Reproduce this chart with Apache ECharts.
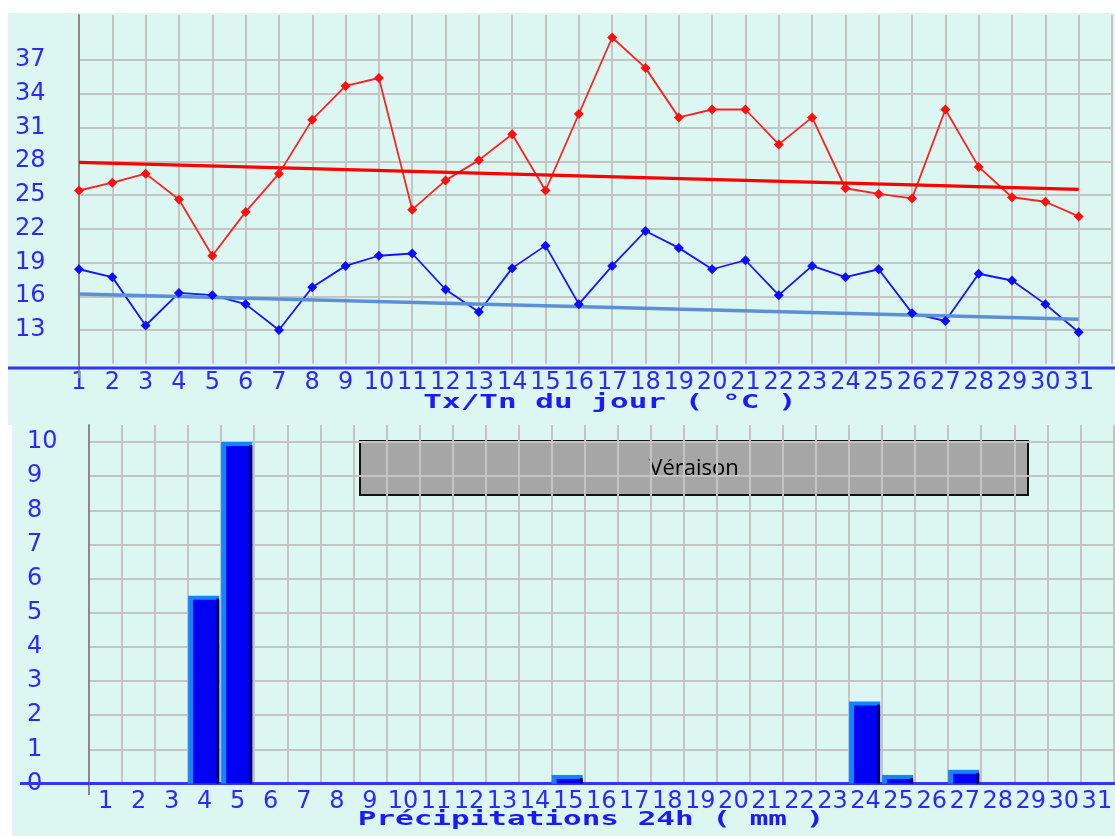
<!DOCTYPE html>
<html>
<head>
<meta charset="utf-8">
<script src="https://cdn.jsdelivr.net/npm/echarts@6/dist/echarts.min.js"></script>
<style>
  html, body { margin: 0; padding: 0; background: #fff; }
  #chart { width: 1115px; height: 836px; }
</style>
</head>
<body>
<div id="chart"></div>
<script>
// days of the month
const days = [1, 2, 3, 4, 5, 6, 7, 8, 9, 10, 11, 12, 13, 14, 15, 16, 17, 18, 19, 20, 21, 22, 23, 24, 25, 26, 27, 28, 29, 30, 31];
// Tx / Tn (°C)
const tmax = [25.4, 26.1, 26.9, 24.6, 19.6, 23.5, 26.9, 31.7, 34.7, 35.4, 23.7, 26.3, 28.1, 30.4, 25.4, 32.2, 39.0, 36.3, 31.9, 32.6, 32.6, 29.5, 31.9, 25.6, 25.1, 24.7, 32.6, 27.5, 24.8, 24.4, 23.1];
const tmin = [18.4, 17.7, 13.4, 16.3, 16.1, 15.3, 13.0, 16.8, 18.7, 19.6, 19.8, 16.6, 14.6, 18.5, 20.5, 15.3, 18.7, 21.8, 20.3, 18.4, 19.2, 16.1, 18.7, 17.7, 18.4, 14.5, 13.8, 18.0, 17.4, 15.3, 12.8];
// trend lines, value on day 1 and day 31
const trendDays = [1, 31];
const trendMax = [27.9, 25.5];
const trendMin = [16.2, 13.95];
// rain (mm)
const precip = [0, 0, 0, 5.5, 10, 0, 0, 0, 0, 0, 0, 0, 0, 0, 0.25, 0, 0, 0, 0, 0, 0, 0, 0, 2.4, 0.25, 0, 0.4, 0, 0, 0, 0];
const tempTicks = [13, 16, 19, 22, 25, 28, 31, 34, 37];
const rainTicks = [0, 1, 2, 3, 4, 5, 6, 7, 8, 9, 10];

const BLUE_TXT = '#2a2aff';
const GRID = '#c4c4c4';
const BG = '#dcf6f1';

const chart = echarts.init(document.getElementById('chart'), null, { renderer: 'canvas' });

const labelFont = { color: BLUE_TXT, fontFamily: 'DejaVu Sans', fontSize: 24 };

// horizontal split line colours: hide lines that carry no label
const tempSplit = [];
for (let v = 10; v <= 41; v += 3) tempSplit.push(tempTicks.includes(v) ? GRID : 'rgba(0,0,0,0)');
const rainSplit = rainTicks.map(() => GRID);

function renderBar(params, api) {
  const val = api.value(1);
  if (!(val > 0)) return null;
  const top = api.coord([api.value(0), val]);
  const base = api.coord([api.value(0), 0]);
  const w = api.size([1, 0])[0];
  const x0 = top[0] - w / 2;
  const h = base[1] - top[1];
  return {
    type: 'group',
    children: [
      { type: 'rect', shape: { x: x0, y: top[1], width: w - 2, height: h }, style: { fill: '#1184ff' } },
      { type: 'rect', shape: { x: x0 + 5, y: top[1] + 4, width: w - 7, height: Math.max(h - 4, 0) }, style: { fill: '#0000f2' } },
      { type: 'rect', shape: { x: x0 + w - 5, y: top[1] + 3, width: 3, height: Math.max(h - 3, 0) }, style: { fill: '#00006a' } }
    ]
  };
}

chart.setOption({
  animation: false,
  backgroundColor: '#ffffff',
  graphic: [
    { type: 'rect', z: -10, shape: { x: 8, y: 13, width: 1107, height: 412 }, style: { fill: BG } },
    { type: 'rect', z: -10, shape: { x: 12, y: 425, width: 1103, height: 411 }, style: { fill: BG } },
    { type: 'line', z: 1, shape: { x1: 79, y1: 364, x2: 79, y2: 378 }, style: { stroke: '#8a8a8a', lineWidth: 2 } },
    { type: 'line', z: 1, shape: { x1: 89, y1: 783, x2: 89, y2: 795 }, style: { stroke: '#8a8a8a', lineWidth: 2 } },
    { type: 'line', z: 1, shape: { x1: 8, y1: 368, x2: 1115, y2: 368 }, style: { stroke: '#3434ff', lineWidth: 3 } },
    { type: 'line', z: 1, shape: { x1: 20, y1: 783.5, x2: 1115, y2: 783.5 }, style: { stroke: '#3434ff', lineWidth: 3 } },
    {
      type: 'text', x: 610, y: 403, scaleX: 1.55, z: 5,
      style: { text: 'Tx/Tn du jour ( °C )', font: 'bold 20px "DejaVu Sans Mono"', fill: '#1a1aff', textAlign: 'center', textVerticalAlign: 'middle' }
    },
    {
      type: 'text', x: 591, y: 820, scaleX: 1.55, z: 5,
      style: { text: 'Précipitations 24h ( mm )', font: 'bold 20px "DejaVu Sans Mono"', fill: '#1a1aff', textAlign: 'center', textVerticalAlign: 'middle' }
    },
    {
      type: 'group', z: 5,
      children: [
        { type: 'rect', shape: { x: 360, y: 441, width: 668, height: 54 }, style: { fill: '#a6a6a6', stroke: '#111', lineWidth: 2 } },
        { type: 'text', x: 694, y: 469, style: { text: 'Véraison', font: '22px "Open Sans"', fill: '#000', textAlign: 'center', textVerticalAlign: 'middle' } }
      ]
    }
  ],
  grid: [
    { left: 79, top: 15, right: -9, height: 348.75 },
    { left: 89, top: 425, right: -8, height: 358.5 }
  ],
  xAxis: [
    {
      type: 'value', gridIndex: 0, min: 1, max: 32, interval: 1,
      axisLine: { show: false }, axisTick: { show: false },
      axisLabel: Object.assign({ margin: 7, formatter: v => (v <= 31 ? String(v) : '') }, labelFont),
      splitLine: { show: true, lineStyle: { color: GRID, width: 2 } }
    },
    {
      type: 'category', gridIndex: 1, data: days.map(String), boundaryGap: true,
      axisLine: { show: false }, axisTick: { show: false },
      axisLabel: Object.assign({ margin: 6, interval: 0 }, labelFont),
      splitLine: { show: true, interval: 0, lineStyle: { color: GRID, width: 2 } }
    }
  ],
  yAxis: [
    {
      type: 'value', gridIndex: 0, min: 10, max: 41, interval: 3,
      axisLine: { show: true, lineStyle: { color: '#8a8a8a', width: 2 } }, axisTick: { show: false },
      axisLabel: Object.assign({ align: 'left', margin: 64, formatter: v => (tempTicks.includes(v) ? String(v) : '') }, labelFont),
      splitLine: { show: true, showMaxLine: false, lineStyle: { color: tempSplit, width: 2 } }
    },
    {
      type: 'value', gridIndex: 1, min: 0, max: 10.5, interval: 1,
      axisLine: { show: true, lineStyle: { color: '#8a8a8a', width: 2 } }, axisTick: { show: false },
      axisLabel: Object.assign({ align: 'left', margin: 62, formatter: v => (rainTicks.includes(v) ? String(v) : '') }, labelFont),
      splitLine: { show: true, showMaxLine: false, lineStyle: { color: rainSplit, width: 2 } }
    }
  ],
  series: [
    {
      name: 'Tx', type: 'line', xAxisIndex: 0, yAxisIndex: 0,
      data: days.map((d, i) => [d, tmax[i]]),
      symbol: 'diamond', symbolSize: 10,
      lineStyle: { color: '#ff2020', width: 1.8 }, itemStyle: { color: '#ff1010' }
    },
    {
      name: 'Tn', type: 'line', xAxisIndex: 0, yAxisIndex: 0,
      data: days.map((d, i) => [d, tmin[i]]),
      symbol: 'diamond', symbolSize: 10,
      lineStyle: { color: '#1414ff', width: 1.8 }, itemStyle: { color: '#0c0cff' }
    },
    {
      name: 'tendance Tx', type: 'line', xAxisIndex: 0, yAxisIndex: 0,
      data: trendDays.map((d, i) => [d, trendMax[i]]),
      symbol: 'none', lineStyle: { color: '#ff0000', width: 3.5 }
    },
    {
      name: 'tendance Tn', type: 'line', xAxisIndex: 0, yAxisIndex: 0,
      data: trendDays.map((d, i) => [d, trendMin[i]]),
      symbol: 'none', lineStyle: { color: '#5c8fd8', width: 3.5 }
    },
    {
      name: 'Précipitations', type: 'custom', xAxisIndex: 1, yAxisIndex: 1,
      data: days.map((d, i) => [String(d), precip[i]]),
      renderItem: renderBar, z: 3
    }
  ]
});
</script>
</body>
</html>
